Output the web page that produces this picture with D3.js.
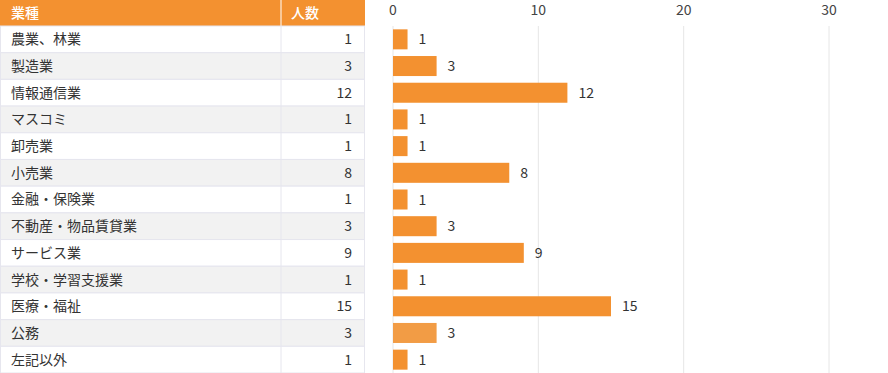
<!DOCTYPE html>
<html>
<head>
<meta charset="utf-8">
<script src="https://cdn.jsdelivr.net/npm/d3@7"></script>
<style>
  body { margin: 0; background: #fff; }
  text { font-family: "Noto Sans CJK JP", "Noto Sans", sans-serif; }
</style>
</head>
<body>
<div id="chart"></div>
<script>
const headers = ["業種", "人数"];
const industries = ["農業、林業", "製造業", "情報通信業", "マスコミ", "卸売業", "小売業", "金融・保険業",
    "不動産・物品賃貸業", "サービス業", "学校・学習支援業", "医療・福祉", "公務", "左記以外"];
const counts = [1, 3, 12, 1, 1, 8, 1, 3, 9, 1, 15, 3, 1];
const ticks = [0, 10, 20, 30];

const width = 888, height = 373;
const headerH = 26, rowH = (height - headerH) / industries.length;
const tableW = 365, colSplit = 281;
const orange = "#f39130";

const svg = d3.select("#chart")
    .append("svg")
    .attr("width", width)
    .attr("height", height);

// table header
svg.append("rect")
    .attr("x", 0).attr("y", 0)
    .attr("width", tableW).attr("height", headerH)
    .attr("fill", orange);
svg.append("line")
    .attr("x1", colSplit).attr("x2", colSplit)
    .attr("y1", 0).attr("y2", headerH)
    .attr("stroke", "#fff").attr("stroke-width", 1);
svg.append("text")
    .attr("x", 11).attr("y", headerH / 2 + 5)
    .attr("fill", "#fff").style("font-size", "14px").style("font-weight", "500")
    .text(headers[0]);
svg.append("text")
    .attr("x", 291).attr("y", headerH / 2 + 5)
    .attr("fill", "#fff").style("font-size", "14px").style("font-weight", "500")
    .text(headers[1]);

// table rows
const rows = svg.selectAll("g.row")
    .data(industries)
    .enter()
    .append("g")
    .attr("class", "row")
    .attr("transform", (d, i) => `translate(0,${headerH + i * rowH})`);

rows.append("rect")
    .attr("x", 0.5).attr("y", 0)
    .attr("width", tableW - 1).attr("height", rowH)
    .attr("fill", (d, i) => i % 2 ? "#f2f2f2" : "#fff")
    .attr("stroke", "#e6e6ee").attr("stroke-width", 1);

rows.append("line")
    .attr("x1", colSplit).attr("x2", colSplit)
    .attr("y1", 0).attr("y2", rowH)
    .attr("stroke", "#e6e6ee");

rows.append("text")
    .attr("x", 11).attr("y", rowH / 2 + 5)
    .attr("fill", "#333").style("font-size", "14px")
    .text(d => d);

rows.append("text")
    .attr("x", 352).attr("y", rowH / 2 + 5)
    .attr("text-anchor", "end")
    .attr("fill", "#333").style("font-size", "14px")
    .text((d, i) => counts[i]);

// bar chart
const x = d3.scaleLinear().domain([0, 30]).range([393, 829]);
const y = d3.scaleBand()
    .domain(industries)
    .range([headerH, height])
    .paddingInner(0.25)
    .paddingOuter(0.125);

svg.append("g")
    .selectAll("line")
    .data(ticks)
    .enter()
    .append("line")
    .attr("x1", d => x(d)).attr("x2", d => x(d))
    .attr("y1", headerH).attr("y2", height)
    .attr("stroke", "#e6e6e6");

svg.append("g")
    .selectAll("text")
    .data(ticks)
    .enter()
    .append("text")
    .attr("x", d => x(d)).attr("y", 15)
    .attr("text-anchor", "middle")
    .attr("fill", "#444").style("font-size", "14px")
    .text(d => d);

svg.append("g")
    .selectAll("rect")
    .data(industries)
    .enter()
    .append("rect")
    .attr("x", x(0))
    .attr("y", d => y(d))
    .attr("width", (d, i) => x(counts[i]) - x(0))
    .attr("height", y.bandwidth())
    .attr("fill", d => d === "公務" ? "#f29c45" : orange);

svg.append("g")
    .selectAll("text")
    .data(industries)
    .enter()
    .append("text")
    .attr("x", (d, i) => x(counts[i]) + 11)
    .attr("y", d => y(d) + y.bandwidth() / 2 + 5)
    .attr("fill", "#333").style("font-size", "14px")
    .text((d, i) => counts[i]);
</script>
</body>
</html>
